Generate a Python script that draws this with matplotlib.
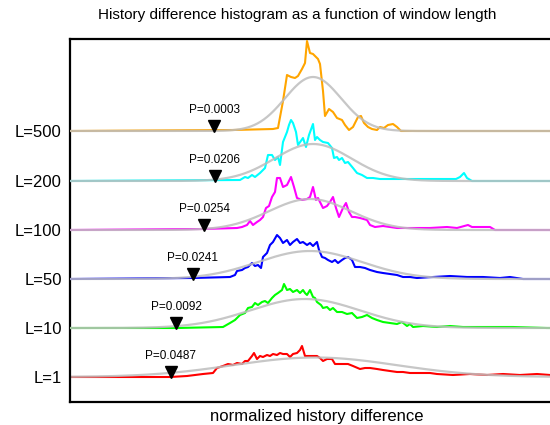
import numpy as np
import matplotlib
matplotlib.use("Agg")
import matplotlib.pyplot as plt

plt.rcParams['font.family'] = ['Liberation Sans', 'DejaVu Sans']

# ---------------- data ----------------
row_labels = ["L=1", "L=10", "L=50", "L=100", "L=200", "L=500"]
row_colors = ["#ff0000", "#00ff00", "#0000ff", "#ff00ff", "#00ffff", "#ffa500"]
p_values = ["0.0487", "0.0092", "0.0241", "0.0254", "0.0206", "0.0003"]
p_marker_x = [171, 176, 193, 204, 215, 214]

red_x = [70,170,187,203,213,217,223,228,233,237,242,245,248,252,254,257,260,263,267,270,
         273,277,280,283,287,290,293,297,300,302,305,310,317,320,323,327,332,335,338,343,
         348,353,360,365,370,377,383,390,397,403,410,420,430,437,453,470,487,503,520,537,550]
red_y = [0,0,1,3,4,9,11,13,12,14,13,16,16,21,24,18,21,20,22,21,
         23,22,24,23,23,20,23,24,27,31,21,21,21,19,16,18,18,13,13,13,
         13,11,8,9,9,8,7,6,5,5,4,4,4,3,2,3,2,3,2,3,2]

green_x = [177,223,230,235,240,245,248,252,255,258,262,265,268,272,275,278,282,284,287,290,
           293,297,300,303,305,307,310,313,315,317,321,323,327,330,333,337,342,347,352,357,
           362,367,372,377,383,390,397,402,407,410,413,423,437,450,463,480,497,513,547]
green_y = [0,1,5,8,13,15,20,21,25,23,26,27,25,30,33,35,38,44,38,39,
           36,38,35,38,35,33,38,31,30,26,23,20,21,18,20,16,16,14,15,10,
           11,13,10,8,6,5,4,6,2,4,1,2,1,2,1,1,1,1,0]

blue_x = [193,230,235,237,242,245,248,252,255,258,261,263,267,270,273,277,280,283,287,290,
          293,297,300,303,307,310,313,317,319,322,325,328,332,335,338,342,345,348,352,355,
          360,365,370,377,383,390,397,403,410,417,433,450,467,483,500,510,523]
blue_y = [1,2,4,8,9,11,12,16,13,14,11,22,26,34,37,44,41,36,39,34,
          37,40,36,37,34,36,33,37,29,22,21,19,17,19,16,19,21,22,19,12,
          12,11,9,7,6,5,4,2,2,1,2,3,2,2,1,2,0]

magenta_x = [203,237,242,247,250,253,257,260,263,266,269,272,275,277,280,283,287,291,294,297,
             302,307,310,313,316,318,323,327,330,333,336,339,343,346,349,352,355,360,367,370,
             375,383,390,397,403,417,430,447,457,468,472,477,483,490,495]
magenta_y = [1,2,3,5,9,5,8,10,13,22,24,33,38,52,52,43,45,53,43,32,
             30,31,33,43,30,32,22,24,28,33,22,13,22,27,18,13,13,12,10,5,
             3,4,3,2,2,2,2,3,2,5,3,3,3,3,0]

cyan_x = [240,245,248,252,255,260,265,268,272,275,278,280,283,287,289,291,293,296,298,303,
          306,309,313,315,317,320,323,328,332,334,337,339,342,345,348,353,357,362,367,373,
          380,390,400,410,420,430,440,450,456,460,464,467,472]
cyan_y = [1,4,3,6,4,8,13,26,26,21,24,16,39,49,56,61,58,49,36,43,
          34,46,57,41,44,41,39,38,33,23,24,21,23,18,19,13,8,6,3,3,
          2,2,2,2,2,2,2,2,2,4,8,3,0]

orange_x = [233,273,278,283,287,291,295,298,302,305,307,310,313,318,320,323,325,329,333,337,
            342,345,349,353,358,361,364,368,372,377,380,384,388,393,397,401]
orange_y = [1,2,3,30,56,54,53,55,62,68,90,78,77,72,67,40,15,22,19,13,
            11,6,1,4,14,15,8,4,2,1,4,3,6,7,4,0]

series_x = [red_x, green_x, blue_x, magenta_x, cyan_x, orange_x]
series_y = [red_y, green_y, blue_y, magenta_y, cyan_y, orange_y]

# fitted gaussian parameters (center, sigma, peak height) per row
fit_center = [315, 305, 310, 310, 313, 313]
fit_sigma = [82, 55, 52, 41, 38.5, 28]
fit_height = [19.5, 29, 28, 31, 37, 54]

# ---------------- layout ----------------
row_offsets = [25, 74, 123, 172, 221, 271]
x_min, x_max = 70, 552
y_min, y_max = 0, 363

fig = plt.figure(figsize=(5.5, 4.25), dpi=100)
ax = fig.add_axes([70 / 550, 23 / 425, 482 / 550, 363 / 425])
ax.set_xlim(x_min, x_max)
ax.set_ylim(y_min, y_max)

xg = np.linspace(x_min, x_max, 600)
for i in range(len(row_labels)):
    xs = list(series_x[i])
    ys = list(series_y[i])
    if xs[0] > x_min:
        xs = [x_min] + xs
        ys = [0] + ys
    if xs[-1] < x_max:
        xs = xs + [x_max]
        ys = ys + [0]
    off = row_offsets[i]
    ax.plot(xs, np.array(ys) + off, color=row_colors[i], lw=1.5, zorder=2 + i)
    g = fit_height[i] * np.exp(-0.5 * ((xg - fit_center[i]) / fit_sigma[i]) ** 2)
    ax.plot(xg, g + off, color="#bdbdbd", lw=1.6, alpha=0.85, zorder=2.5 + i)
    ax.plot([p_marker_x[i]], [off + 5.5], marker='v', color='black', ms=8.5,
            zorder=20, linestyle='none')
    ax.text(p_marker_x[i], off + 18, "P=" + p_values[i], ha='center', va='baseline',
            fontsize=8.5, color='black', zorder=21)

ax.set_yticks(row_offsets)
ax.set_yticklabels(row_labels, fontsize=12)
ax.set_xticks([])
ax.tick_params(axis='y', length=0, pad=6)
for s in ['left', 'top', 'bottom']:
    ax.spines[s].set_linewidth(1.6)
ax.spines['right'].set_visible(False)

fig.text(297 / 550, 1 - 15 / 425, "History difference histogram as a function of window length",
         ha='center', va='center', fontsize=11)
fig.text(317 / 550, 1 - 417 / 425, "normalized history difference",
         ha='center', va='center', fontsize=12)

fig.savefig("out.png", dpi=100)
